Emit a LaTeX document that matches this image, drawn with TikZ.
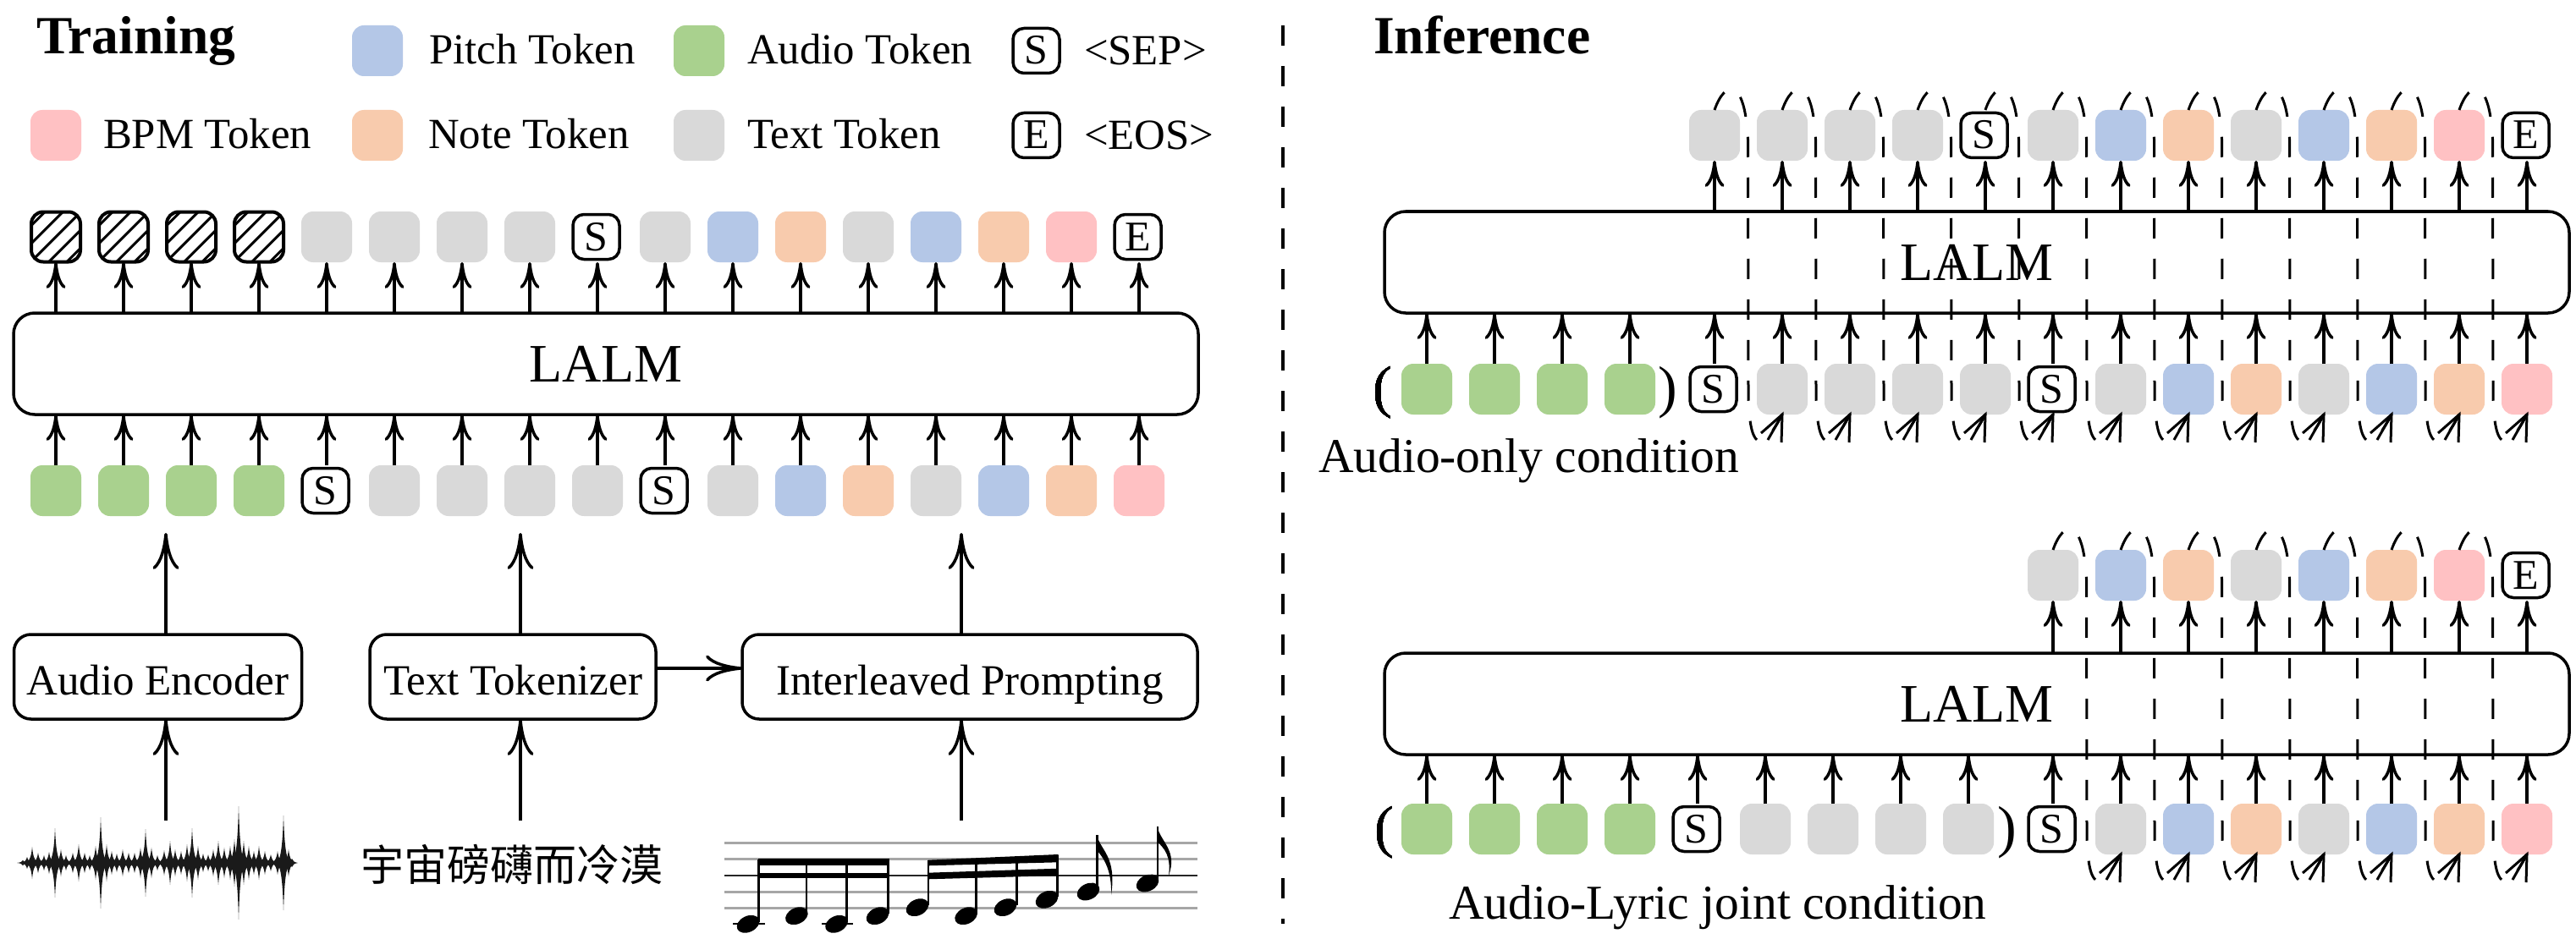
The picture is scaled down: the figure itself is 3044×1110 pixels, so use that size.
\documentclass[tikz,border=0pt]{standalone}
\usepackage{fontspec}
\setmainfont{Liberation Serif}
\newfontfamily\cjkf{Noto Sans CJK SC}
\usetikzlibrary{arrows.meta,calc}
\definecolor{cb}{HTML}{B4C7E7}
\definecolor{cg}{HTML}{A9D18E}
\definecolor{co}{HTML}{F8CBAD}
\definecolor{cy}{HTML}{D9D9D9}
\definecolor{cp}{HTML}{FFC1C3}
\definecolor{cw}{HTML}{1A1A1A}
\newcommand\fsz[1]{\fontsize{#1pt}{#1pt}\selectfont}
\newcommand\labS{S}
\newcommand\labE{E}
\newcommand\labg{}
\newcommand\labb{}
\newcommand\labo{}
\newcommand\labp{}
\newcommand\labv{}
\newcommand\labh{}
\newcommand\tok[4]{%
  \node[tok#4] (#1) at (#2,#3) {\csname lab#4\endcsname};
  \coordinate (#1-n) at (#2,#3-30);
  \coordinate (#1-s) at (#2,#3+30);
}
% feedback path: from the top of an output token to the bottom of the next input token
\newcommand\feedback[2]{%
  \draw[fb] (#1-n) .. controls ($(#1-n)+(12,-35)$) and ($(#1-n)+(36,-40)$) .. ($(#1-n)+(39.5,35)$)
     -- ($(#2-s)+(-40,-20)$) .. controls ($(#2-s)+(-38,50)$) and ($(#2-s)+(-21,40)$) .. (#2-s);
  \draw[fbhead] ($(#2-s)+(-25,22)$) -- (#2-s) -- ($(#2-s)+(-1,33)$);
  \draw[fbhead] ($(#2-s)+(-17,30)$) -- (#2-s);
}
\tikzset{
  x=1pt,y=-1pt,
  tokbase/.style={rectangle,rounded corners=14pt,minimum width=60pt,minimum height=60pt,inner sep=0pt,outer sep=0pt},
  tokg/.style={tokbase,fill=cg},
  tokv/.style={tokbase,fill=cy},
  tokb/.style={tokbase,fill=cb},
  toko/.style={tokbase,fill=co},
  tokp/.style={tokbase,fill=cp},
  tokh/.style={tokbase,draw,line width=4pt,minimum width=58pt,minimum height=59pt},
  letter/.style={tokbase,draw,fill=white,line width=3.5pt,minimum width=55pt,minimum height=53pt,xshift=-1.5pt,
     rounded corners=13pt,font=\fsz{50},text height=32pt,text depth=0pt},
  tokS/.style={letter},
  tokE/.style={letter},
  arr/.style={line width=3.5pt,-{Computer Modern Rightarrow[length=31pt,width=23pt]}},
  bigarr/.style={line width=3.5pt,-{Computer Modern Rightarrow[length=43pt,width=31pt]}},
  fb/.style={line width=3pt,dash pattern=on 24pt off 24pt},
  fbhead/.style={line width=3pt},
  mainbox/.style={rectangle,draw,fill=white,line width=3.5pt,rounded corners=25pt,minimum width=1400pt,minimum height=120pt,
     inner sep=0pt,outer sep=0pt,font=\fsz{64},text height=42pt,text depth=0pt},
  procbox/.style={rectangle,draw,fill=white,line width=3.5pt,rounded corners=20pt,minimum height=100pt,
     inner sep=0pt,outer sep=0pt,font=\fsz{51},text height=43pt,text depth=0pt},
  legtext/.style={anchor=base west,inner sep=0pt,outer sep=0pt,font=\fsz{50.8}},
  title/.style={anchor=base west,inner sep=0pt,outer sep=0pt,font=\fsz{63.5}\bfseries},
  cond/.style={anchor=base west,inner sep=0pt,outer sep=0pt,font=\fsz{57.5}},
  paren/.style={anchor=base,inner sep=0pt,outer sep=0pt,font=\fsz{68}},
  stem/.style={line width=2.8pt,draw=black},
}
\begin{document}
\begin{tikzpicture}
\useasboundingbox (0,0) rectangle (3044,1110);
\fill[white] (0,0) rectangle (3044,1110);

% titles and legend
\node[title] (tTrain) at (43,64) {Training};
\node[title] (tInf) at (1623,64) {Inference};
\tok{lb}{446}{60}{b}
\tok{lg}{826}{60}{g}
\tok{lS}{1226}{60}{S}
\tok{lp}{66}{160}{p}
\tok{lo}{446}{160}{o}
\tok{lv}{826}{160}{v}
\tok{lE}{1226}{160}{E}
\node[legtext] (xb) at (507,76) {Pitch Token};
\node[legtext] (xg) at (883,76) {Audio Token};
\node[legtext] (xS) at (1281,77) {<SEP>};
\node[legtext] (xp) at (122,176) {BPM Token};
\node[legtext] (xo) at (506,176) {Note Token};
\node[legtext] (xv) at (883,176) {Text Token};
\node[legtext] (xE) at (1281,177) {<EOS>};

% divider
\coordinate (divtop) at (1516,30);
\coordinate (divbot) at (1516,1092);
\draw[line width=3.5pt,dash pattern=on 24pt off 24pt] (divtop) -- (divbot);

% ===== training =====
\node[mainbox] (lalmA) at (716,430) {LALM};
\foreach \x in {66,146,226,306}{
  \begin{scope}
    \clip[rounded corners=14pt] (\x-29,250.5) rectangle (\x+29,309.5);
    \foreach \k in {-3,...,3}
      \draw[line width=3pt] (\x-45,325+\k*21.3) -- (\x+45,235+\k*21.3);
  \end{scope}
}
\foreach \k [count=\i from 0] in {h,h,h,h,v,v,v,v,S,v,b,o,v,b,o,p,E}{
  \tok{tt\i}{66+80*\i}{280}{\k}
  \draw[arr] (lalmA.north -| tt\i-s) -- (tt\i-s);
}
\foreach \k [count=\i from 0] in {g,g,g,g,S,v,v,v,v,S,v,b,o,v,b,o,p}{
  \tok{tb\i}{66+80*\i}{580}{\k}
  \draw[arr] (tb\i-n) -- (lalmA.south -| tb\i-n);
}
\node[procbox,minimum width=340pt] (audio) at (186.5,800) {Audio Encoder};
\node[procbox,minimum width=338pt] (texttok) at (606,800) {Text Tokenizer};
\node[procbox,minimum width=538pt] (inter) at (1146,800) {Interleaved Prompting};
\coordinate (upa) at (196,630);
\coordinate (upb) at (615,630);
\coordinate (upc) at (1136,630);
\coordinate (wavetop) at (196,970);
\coordinate (cjktop) at (615,970);
\coordinate (scoretop) at (1136,970);
\coordinate (horiz) at (800,790);
\draw[bigarr] (audio.north -| upa) -- (upa);
\draw[bigarr] (texttok.north -| upb) -- (upb);
\draw[bigarr] (inter.north -| upc) -- (upc);
\draw[bigarr] (wavetop) -- (audio.south -| wavetop);
\draw[bigarr] (cjktop) -- (texttok.south -| cjktop);
\draw[bigarr] (scoretop) -- (inter.south -| scoretop);
\draw[bigarr] (texttok.east |- horiz) -- (inter.west |- horiz);

% lyric
\node[inner sep=0pt,font=\cjkf\fsz{51}] (lyric) at (605,1022) {宇宙磅礴而冷漠};

% waveform
\foreach \x/\a in {27/3,32/7,38/19,45/12,52/9,58/13,65/41,72/16,78/9,86/12,93/22,100/12,106/9,113/20,119/54,126/22,132/14,138/11,145/16,152/12,159/12,166/18,172/40,179/18,186/9,194/15,201/26,207/16,214/14,221/22,227/41,234/20,240/11,246/10,252/16,258/26,265/18,272/20,277/28,282/67,288/26,294/20,300/14,306/20,313/14,320/10,328/14,335/56,341/16,345/5}{
  \fill[cw] (\x-7,1020) .. controls (\x-2.5,1020-.15*\a) and (\x-1,1020-.45*\a) .. (\x,1020-\a)
     .. controls (\x+1,1020-.45*\a) and (\x+2.5,1020-.15*\a) .. (\x+7,1020)
     .. controls (\x+2.5,1020+.15*\a) and (\x+1,1020+.45*\a) .. (\x,1020+\a)
     .. controls (\x-1,1020+.45*\a) and (\x-2.5,1020+.15*\a) .. (\x-7,1020) -- cycle;
}

% score
\foreach \y in {996,1015.7,1054,1073.3}
  \draw[line width=3pt,gray!70] (856,\y) -- (1415,\y);
\draw[line width=2.5pt,black!85] (856,1035) -- (1415,1035);
\draw[line width=2pt] (866,1092.3) -- (904,1092.3);
\draw[line width=2pt] (971,1092.3) -- (1008,1092.3);
\foreach \x/\y in {884/1092.3,941.4/1082.7,988.5/1092.3,1037/1082.7,1084/1072.7,1141.6/1082.7,1188/1072.7,1237/1063.3,1286/1054,1356/1044}
  \fill[black,rotate around={25:(\x,\y)}] (\x,\y) ellipse [x radius=14pt,y radius=9.5pt];
\foreach \x/\a/\b in {896.6/1016/1090,953/1016/1080,1000.7/1016/1090,1049.7/1016/1080,1097/1017/1070,1153.8/1015/1080,1201.6/1013/1070,1249.5/1011/1060,1296.6/987/1052,1368/977/1042}
  \draw[stem] (\x,\a) -- (\x,\b);
\fill (896,1015) rectangle (1051,1023.3);
\fill (896,1031.7) rectangle (1051,1038.3);
\fill (1096.5,1016.7) -- (1250.5,1010) -- (1250.5,1019.3) -- (1096.5,1023.3) -- cycle;
\fill (1096.5,1031.7) -- (1250.5,1026.7) -- (1250.5,1035) -- (1096.5,1039.3) -- cycle;
\fill (1296,987) .. controls (1300,1005) and (1320,1012) .. (1313,1058) .. controls (1314,1030) and (1305,1015) .. (1296,1005) -- cycle;
\fill (1367.5,977) .. controls (1371,995) and (1392,1005) .. (1381,1035) .. controls (1384,1012) and (1376,1003) .. (1367.5,995) -- cycle;

% ===== inference, audio-only =====
\node[mainbox] (lalmB) at (2336,310) {LALM};
\foreach \k [count=\i from 0] in {v,v,v,v,S,v,b,o,v,b,o,p,E}{
  \tok{ua\i}{2026+80*\i}{160}{\k}
  \draw[arr] (lalmB.north -| ua\i-s) -- (ua\i-s);
}
\foreach \k [count=\i from 0] in {S,v,v,v,v,S,v,b,o,v,b,o,p}{
  \tok{la\i}{2026+80*\i}{460}{\k}
  \draw[arr] (la\i-n) -- (lalmB.south -| la\i-n);
}
\foreach \i in {0,...,3}{
  \tok{ga\i}{1686+80*\i}{460}{g}
  \draw[arr] (ga\i-n) -- (lalmB.south -| ga\i-n);
}
\foreach \i [evaluate=\i as \j using int(\i+1)] in {0,...,11}
  \feedback{ua\i}{la\j}
\node[paren] (pa1) at (1634,480) {(};
\node[paren] (pa2) at (1971,480) {)};
\node[cond] (ca) at (1558,558.5) {Audio-only condition};

% ===== inference, audio-lyric =====
\node[mainbox] (lalmC) at (2336,832) {LALM};
\foreach \k [count=\i from 0] in {v,b,o,v,b,o,p,E}{
  \tok{ub\i}{2426+80*\i}{680}{\k}
  \draw[arr] (lalmC.north -| ub\i-s) -- (ub\i-s);
}
\foreach \k [count=\i from 0] in {S,v,b,o,v,b,o,p}{
  \tok{lb\i}{2426+80*\i}{980}{\k}
  \draw[arr] (lb\i-n) -- (lalmC.south -| lb\i-n);
}
\foreach \k [count=\i from 0] in {g,g,g,g,S,v,v,v,v}{
  \tok{gb\i}{1686+80*\i}{980}{\k}
  \draw[arr] (gb\i-n) -- (lalmC.south -| gb\i-n);
}
\foreach \i [evaluate=\i as \j using int(\i+1)] in {0,...,6}
  \feedback{ub\i}{lb\j}
\node[paren] (pb1) at (1636,1000) {(};
\node[paren] (pb2) at (2372,1000) {)};
\node[cond] (cb) at (1712,1086.5) {Audio-Lyric joint condition};
\end{tikzpicture}
\end{document}
